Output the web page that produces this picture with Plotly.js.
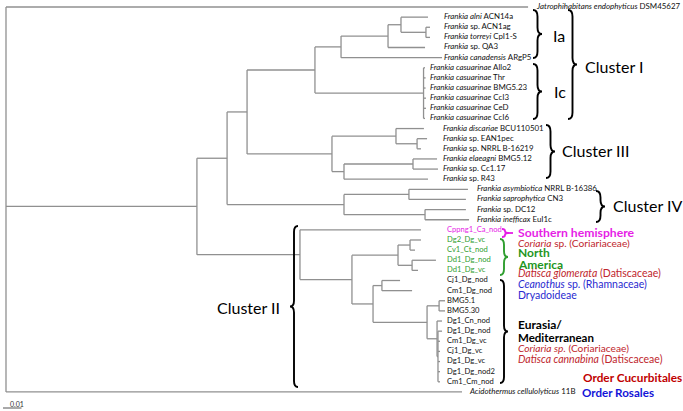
<!DOCTYPE html>
<html><head><meta charset="utf-8">
<script src="https://cdn.plot.ly/plotly-3.0.1.min.js"></script>
<style>html,body{margin:0;padding:0;background:#fff}#chart{width:683px;height:411px}</style>
</head><body><div id="chart"></div>
<script>
// ---------------- DATA ----------------
const leafLabels = [
  '<i>Jatrophihabitans endophyticus</i> DSM45627',
  '<i>Frankia alni</i> ACN14a',
  '<i>Frankia</i> sp. ACN1ag',
  '<i>Frankia torreyi</i> CpI1-S',
  '<i>Frankia</i> sp. QA3',
  '<i>Frankia canadensis</i> ARgP5',
  '<i>Frankia casuarinae</i> Allo2',
  '<i>Frankia casuarinae</i> Thr',
  '<i>Frankia casuarinae</i> BMG5.23',
  '<i>Frankia casuarinae</i> CcI3',
  '<i>Frankia casuarinae</i> CeD',
  '<i>Frankia casuarinae</i> CcI6',
  '<i>Frankia discariae</i> BCU110501',
  '<i>Frankia</i> sp. EAN1pec',
  '<i>Frankia</i> sp. NRRL B-16219',
  '<i>Frankia elaeagni</i> BMG5.12',
  '<i>Frankia</i> sp. Cc1.17',
  '<i>Frankia</i> sp. R43',
  '<i>Frankia asymbiotica</i> NRRL B-16386',
  '<i>Frankia saprophytica</i> CN3',
  '<i>Frankia</i> sp. DC12',
  '<i>Frankia inefficax</i> EuI1c',
  'Cppng1_Ca_nod',
  'Dg2_Dg_vc',
  'Cv1_Ct_nod',
  'Dd1_Dg_nod',
  'Dd1_Dg_vc',
  'Cj1_Dg_nod',
  'Cm1_Dg_nod',
  'BMG5.1',
  'BMG5.30',
  'Dg1_Cn_nod',
  'Dg1_Dg_nod',
  'Cm1_Dg_vc',
  'Cj1_Dg_vc',
  'Dg1_Dg_vc',
  'Dg1_Dg_nod2',
  'Cm1_Cm_nod',
  '<i>Acidothermus cellulolyticus</i> 11B'
];
const leafParents = [
  'root','Ia2','Ia3','Ia3','Ia1','Ia',
  'Ic','Ic','Ic','Ic','Ic','Ic',
  'III1','III1a','III1a','III2a','III2a','III2',
  'IV1','IV1','IV2','IV2',
  'II','NA1','NA1','NA2','NA2','EU1','EU1','BMG','BMG',
  'comb','comb2','comb2','comb2','comb2','comb2','comb2',
  'root'
];
// cumulative distance from root (substitutions per site)
const leafDepths = [
  0.2822, 0.2281, 0.2292, 0.2292, 0.2265, 0.2357,
  0.2265, 0.2268, 0.2268, 0.2270, 0.2270, 0.2265,
  0.2259, 0.2276, 0.2243, 0.2330, 0.2335, 0.2281,
  0.2497, 0.2486, 0.2486, 0.2503,
  0.2243, 0.2243, 0.2211, 0.2324, 0.2227, 0.2130, 0.2195, 0.2373, 0.2373,
  0.2357, 0.2357, 0.2346, 0.2346, 0.2346, 0.2346, 0.2346,
  0.2465
];
const leafGroups = [
  'Jat','Ia','Ia','Ia','Ia','Ia',
  'Ic','Ic','Ic','Ic','Ic','Ic',
  'III','III','III','III','III','III',
  'IV','IV','IV','IV',
  'II','II','II','II','II','II','II','II','II','II','II','II','II','II','II','II',
  'Aci'
];
const leafRegions = [
  '','','','','','','','','','','','','','','','','','','','','','',
  'Southern hemisphere','North America','North America','North America','North America',
  'Eurasia','Eurasia','Eurasia','Eurasia','Eurasia','Eurasia','Eurasia','Eurasia','Eurasia','Eurasia','Eurasia',
  ''
];
const nodeNames   = ['root','A','B','C','I','Ia','Ia1','Ia2','Ia3','Ic',
                     'III','III1','III1a','III2','III2a','IV','IV1','IV2',
                     'II','H','NA','NA1','NA2','EU','EU1','EU2','BMG','comb','comb2'];
const nodeParents = [null,'root','A','B','C','I','Ia','Ia1','Ia2','I',
                     'C','III','III1','III','III2','B','IV','IV',
                     'A','II','H','NA','NA','H','EU','EU','EU2','EU2','comb'];
const nodeDepths  = [0, 0.1032, 0.1195, 0.1303, 0.1670, 0.1811, 0.2065, 0.2135, 0.2270, 0.2257,
                     0.1762, 0.2108, 0.2222, 0.1827, 0.2200, 0.1827, 0.2178, 0.2265,
                     0.1589, 0.1870, 0.2119, 0.2184, 0.2195, 0.1984, 0.2032, 0.2276, 0.2341, 0.2330, 0.2335];
const scaleBarLength = 0.01;

// ---------------- LAYOUT HELPERS (reference pixel frame -> axes) ----------------
const W = 683, H = 411, ROOT_PX = 6, PX_PER_UNIT = 1850, TOP_PX = 7, ROW_PX = 10.13;
const X = px => (px - ROOT_PX) / PX_PER_UNIT;
const Y = py => (py - TOP_PX) / ROW_PX;
const dX = px => px / PX_PER_UNIT;

// ---------------- TREE GEOMETRY FROM DATA ----------------
const yOf = {}, depthOf = {}, parentOf = {}, children = {};
nodeNames.forEach((n, i) => { depthOf[n] = nodeDepths[i]; children[n] = []; });
leafLabels.forEach((l, i) => { yOf['L' + i] = i; depthOf['L' + i] = leafDepths[i]; });
leafParents.forEach((p, i) => { children[p].push('L' + i); parentOf['L' + i] = p; });
nodeParents.forEach((p, i) => { if (p) { children[p].push(nodeNames[i]); parentOf[nodeNames[i]] = p; } });
function computeY(n) {
  if (n in yOf) return yOf[n];
  const ys = children[n].map(computeY);
  yOf[n] = (Math.min(...ys) + Math.max(...ys)) / 2;
  return yOf[n];
}
computeY('root');
const lx = [], ly = [];
nodeNames.forEach(n => {
  const ys = children[n].map(c => yOf[c]);
  lx.push(depthOf[n], depthOf[n], null); ly.push(Math.min(...ys), Math.max(...ys), null);
});
Object.keys(parentOf).forEach(c => {
  lx.push(depthOf[parentOf[c]], depthOf[c], null); ly.push(yOf[c], yOf[c], null);
});

// label columns: aligned per group
const groupMax = {};
leafGroups.forEach((g, i) => { groupMax[g] = Math.max(groupMax[g] || 0, leafDepths[i]); });
const groupGapPx = { Jat: 9, Ia: 2, Ic: 4, III: 5, IV: 8, II: 2, Aci: 8 };
const labelX = leafGroups.map(g => groupMax[g] + dX(groupGapPx[g]));
const regionColor = { '': '#111111', 'Southern hemisphere': '#e61ee6', 'North America': '#2f9e2f', 'Eurasia': '#111111' };
const labelColors = leafRegions.map(r => regionColor[r]);
const labelSizes = leafRegions.map(r => r === '' ? 7.9 : 7.6);

const FONT = 'Lato, "Open Sans", sans-serif';
const traces = [
  { x: lx, y: ly, mode: 'lines', line: { color: '#909090', width: 1.3 }, hoverinfo: 'skip', showlegend: false },
  { x: labelX, y: leafLabels.map((l, i) => i), mode: 'text', text: leafLabels, textposition: 'middle right',
    cliponaxis: false,
    textfont: { family: FONT, size: labelSizes, color: labelColors }, hoverinfo: 'skip', showlegend: false },
  { x: [X(3), X(3) + scaleBarLength], y: [Y(408), Y(408)], mode: 'lines', line: { color: '#555', width: 1 },
    hoverinfo: 'skip', showlegend: false }
];

// ---------------- BRACES & ANNOTATIONS ----------------
function bracePath(x0, y0, y1, w, dir) {
  const xm = x0 + dir * w / 2, xt = x0 + dir * w, ym = (y0 + y1) / 2;
  const r = Math.min(Math.abs(w) / 2 + 2, (y1 - y0) / 4);
  const P = (x, y) => X(x) + ',' + Y(y);
  return 'M' + P(x0, y0) + ' Q' + P(xm, y0) + ' ' + P(xm, y0 + r) +
         ' L' + P(xm, ym - r) + ' Q' + P(xm, ym) + ' ' + P(xt, ym) +
         ' Q' + P(xm, ym) + ' ' + P(xm, ym + r) +
         ' L' + P(xm, y1 - r) + ' Q' + P(xm, y1) + ' ' + P(x0, y1);
}
const braces = [
  { x: 533, y0: 10, y1: 58, w: 9, dir: 1, c: '#000', lw: 1.9 },
  { x: 533, y0: 64, y1: 119, w: 9, dir: 1, c: '#000', lw: 1.9 },
  { x: 568, y0: 10, y1: 119, w: 9, dir: 1, c: '#000', lw: 1.9 },
  { x: 546, y0: 125, y1: 178, w: 9, dir: 1, c: '#000', lw: 1.9 },
  { x: 596, y0: 191, y1: 222, w: 9, dir: 1, c: '#000', lw: 1.9 },
  { x: 298, y0: 226, y1: 387, w: 8, dir: -1, c: '#000', lw: 1.9 },
  { x: 502, y0: 229, y1: 237, w: 6, dir: 1, c: '#e61ee6', lw: 1.9 },
  { x: 500, y0: 239, y1: 275, w: 8, dir: 1, c: '#2f9e2f', lw: 1.9 },
  { x: 500, y0: 280, y1: 383, w: 8, dir: 1, c: '#000', lw: 1.9 }
];
const shapes = braces.map(b => ({ type: 'path', xref: 'x', yref: 'y', path: bracePath(b.x, b.y0, b.y1, b.w, b.dir),
  line: { color: b.c, width: b.lw } }));
shapes.push({ type: 'line', xref: 'x', yref: 'y', x0: X(508), x1: X(513), y0: Y(233), y1: Y(233), line: { color: '#e61ee6', width: 1.8 } });

const RED = '#c0262d', BLUE = '#2a2ad0', GREEN = '#1e961e', MAG = '#e61ee6';
function ann(text, px, py, size, color, opts) {
  return Object.assign({ text, x: X(px), y: Y(py), xref: 'x', yref: 'y', xanchor: 'left', yanchor: 'middle',
    showarrow: false, borderpad: 0, font: { family: FONT, size, color } }, opts || {});
}
const annotations = [
  ann('Ia', 552, 35, 16, '#000'),
  ann('Ic', 553, 91, 16, '#000'),
  ann('Cluster I', 584, 66, 16, '#000'),
  ann('Cluster III', 561, 150, 16, '#000'),
  ann('Cluster IV', 612, 205, 16, '#000'),
  ann('Cluster II', 281, 307, 16, '#000', { xanchor: 'right' }),
  ann('<b>Southern hemisphere</b>', 517, 232.5, 12.2, MAG),
  ann('<i>Coriaria</i> sp. (Coriariaceae)', 517, 243, 10.2, RED),
  ann('<b>North</b>', 517, 252, 12, GREEN),
  ann('<b>America</b>', 517, 264, 12, GREEN),
  ann('<i>Datisca glomerata</i> (Datiscaceae)', 517, 273, 10.5, RED),
  ann('<i>Ceanothus</i> sp. (Rhamnaceae)', 517, 284, 10.5, BLUE),
  ann('Dryadoideae', 517, 295, 10.5, BLUE),
  ann('<b>Eurasia/</b>', 517, 324, 12, '#000'),
  ann('<b>Mediterranean</b>', 517, 337, 11.5, '#000'),
  ann('<i>Coriaria sp.</i> (Coriariaceae)', 517, 348, 10.2, RED),
  ann('<i>Datisca cannabina</i> (Datiscaceae)', 517, 359, 10.5, RED),
  ann('<b>Order Cucurbitales</b>', 582, 377.5, 11.8, '#c00000'),
  ann('<b>Order Rosales</b>', 581, 392, 11.6, '#1414d8'),
  ann('0.01', 17, 404, 7, '#333', { xanchor: 'center' })
];

const layout = {
  width: W, height: H, margin: { l: 0, r: 0, t: 0, b: 0 },
  paper_bgcolor: '#fff', plot_bgcolor: '#fff',
  xaxis: { range: [X(0), X(W)], visible: false, fixedrange: true },
  yaxis: { range: [Y(H), Y(0)], visible: false, fixedrange: true },
  shapes, annotations, showlegend: false
};
Plotly.newPlot('chart', traces, layout, { staticPlot: true, displayModeBar: false });
</script></body></html>
